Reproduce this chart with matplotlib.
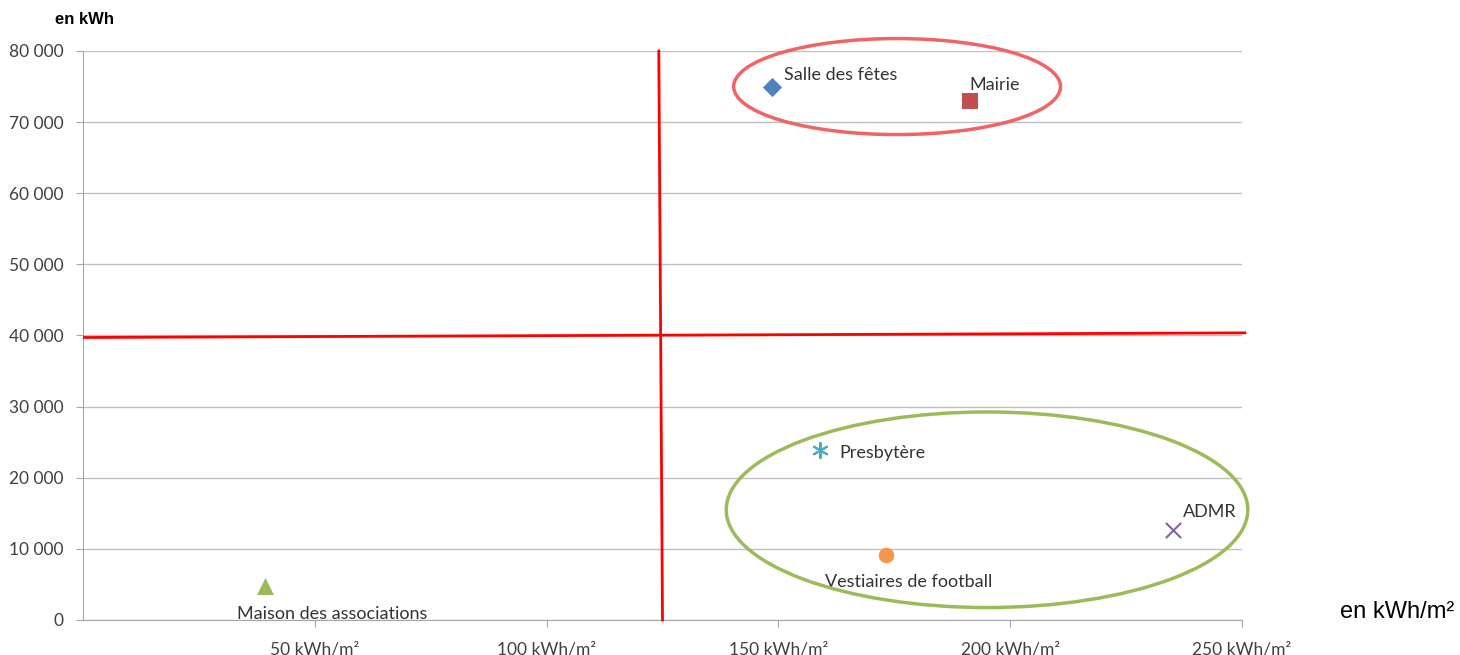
import matplotlib.pyplot as plt
from matplotlib.patches import Ellipse
from matplotlib.ticker import FuncFormatter

# données
batiments = ['Salle des fêtes', 'Mairie', 'Maison des associations',
             'ADMR', 'Presbytère', 'Vestiaires de football']
conso_m2 = [148.6, 191.3, 39.3, 235.1, 159.0, 173.2]      # kWh/m²
conso_kwh = [75000, 72900, 4800, 12700, 23900, 9100]       # kWh
couleurs = ['#4F81BD', '#C0504D', '#9BBB59', '#8064A2', '#4BACC6', '#F79646']
marqueurs = ['D', 's', '^', 'x', (6, 2, 0), 'o']
tailles = [95, 125, 150, 120, 120, 125]
# décalage des étiquettes (points)
decalages = [(9, 8), (0, 12), (-20, -20), (7, 13), (14, -2), (-44, -19)]

plt.rcParams['font.family'] = ['Lato', 'DejaVu Sans']

fig = plt.figure(figsize=(14.6, 6.55), dpi=100)
ax = fig.add_axes([83 / 1460, 35 / 655, 1159 / 1460, 569 / 655])

ax.set_xlim(0, 250)
ax.set_ylim(0, 80000)
ax.set_xticks([50, 100, 150, 200, 250])
ax.set_xticklabels(['50 kWh/m²', '100 kWh/m²', '150 kWh/m²', '200 kWh/m²', '250 kWh/m²'])
ax.set_yticks(range(0, 80001, 10000))
ax.yaxis.set_major_formatter(FuncFormatter(lambda v, p: f'{int(v):,}'.replace(',', ' ')))
ax.grid(axis='y', color='#BFBFBF', lw=1)
ax.set_axisbelow(True)
for s in ['top', 'right']:
    ax.spines[s].set_visible(False)
for s in ['left', 'bottom']:
    ax.spines[s].set_color('#A6A6A6')
ax.tick_params(axis='both', colors='#A6A6A6', labelcolor='#404040', labelsize=12.5, length=5)
ax.tick_params(axis='x', pad=10.5)
ax.tick_params(axis='y', pad=9)

for i in range(len(batiments)):
    lw = 1.5 if marqueurs[i] in ('x', (6, 2, 0)) else 0
    ax.scatter(conso_m2[i], conso_kwh[i], marker=marqueurs[i], s=tailles[i],
               color=couleurs[i], linewidths=lw, zorder=4)
    ax.annotate(batiments[i], (conso_m2[i], conso_kwh[i]), xytext=decalages[i],
                textcoords='offset points', fontsize=13, color='#333333',
                ha='left', va='center')

# lignes de séparation tracées à la main
ax.plot([124.2, 125.0], [80000, 0], color='#FF0000', lw=2, clip_on=False, zorder=3)
ax.plot([0.3, 250.6], [39720, 40370], color='#FF0000', lw=2, clip_on=False, zorder=3)

# ellipses de regroupement
ax.add_patch(Ellipse((175.6, 75000), 70.5, 13500, fill=False, ec='#F26366', lw=2.5,
                     clip_on=False, zorder=3))
ax.add_patch(Ellipse((195.0, 15500), 112.5, 27500, fill=False, ec='#9BBB59', lw=2.5,
                     clip_on=False, zorder=3))

fig.text(55 / 1460, 1 - 19 / 655, 'en kWh', fontsize=12, fontweight='bold',
         family='Liberation Sans', va='center')
fig.text(1340 / 1460, 1 - 612 / 655, 'en kWh/m²', fontsize=17,
         family='Liberation Sans', va='center')

fig.savefig('out.png', dpi=100)
